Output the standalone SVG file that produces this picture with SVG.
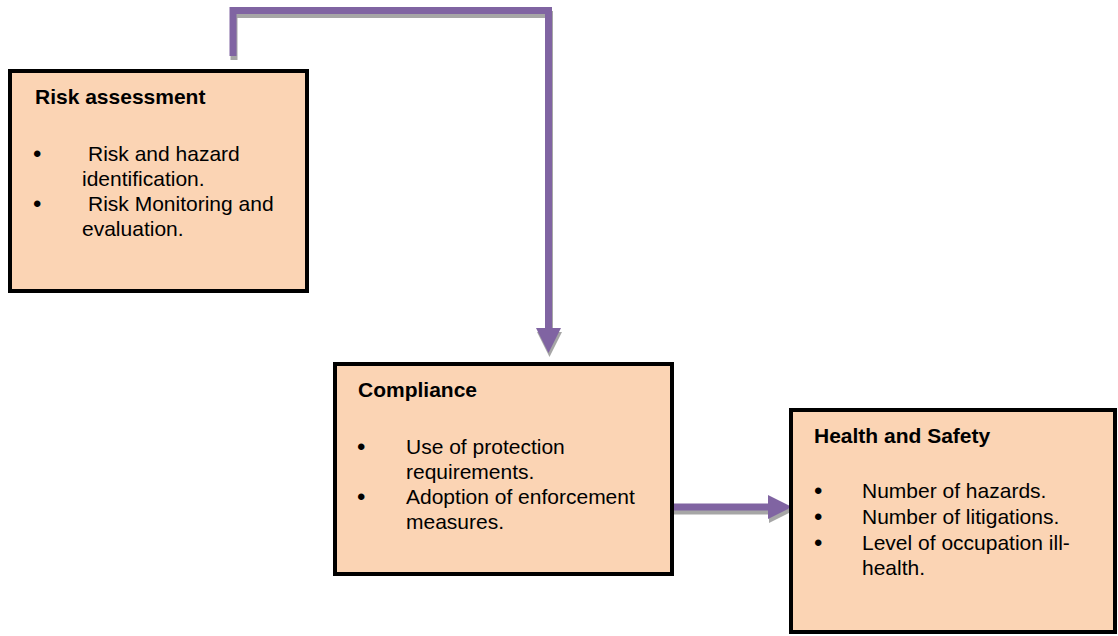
<svg xmlns="http://www.w3.org/2000/svg" width="1118" height="636" viewBox="0 0 1118 636">
  <style>
    .box { fill: #FBD4B4; stroke: #000; stroke-width: 4; }
    .shadow { fill: none; stroke: #A6A6A6; stroke-width: 4; }
    .title { font-family: "Liberation Sans", Arial, sans-serif; font-weight: bold; font-size: 21px; fill: #000; }
    .body { font-family: "Liberation Sans", Arial, sans-serif; font-size: 21px; fill: #000; }
    .bullet { font-family: "Liberation Sans", Arial, sans-serif; font-size: 24px; fill: #000; }
    .conn { fill: none; stroke: #8064A2; stroke-width: 7; stroke-linejoin: miter; }
    .connShadow { fill: none; stroke: #A6A6A6; stroke-width: 7; stroke-linejoin: miter; }
    .head { fill: #8064A2; }
    .headShadow { fill: #A6A6A6; }
  </style>
  <rect width="1118" height="636" fill="#fff"/>

  <g id="connectors">
    <g transform="translate(1,4)">
      <path class="connShadow" d="M233,56 V10.5 H548.5 V330"/>
      <polygon class="headShadow" points="536,328 561,328 548.5,353"/>
      <path class="connShadow" d="M672,507 H770"/>
      <polygon class="headShadow" points="768,495 768,519 792,507"/>
    </g>
    <path class="conn" d="M233,56 V10.5 H548.5 V330"/>
    <polygon class="head" points="536,328 561,328 548.5,353"/>
    <path class="conn" d="M672,507 H770"/>
    <polygon class="head" points="768,495 768,519 792,507"/>
  </g>

  <g id="risk-assessment">
    <rect class="box" x="10" y="71" width="297" height="220"/>
    <text class="title" x="35" y="104">Risk assessment</text>
    <text class="bullet" x="33" y="162">•</text>
    <text class="body" x="88" y="161">Risk and hazard</text>
    <text class="body" x="82" y="186">identification.</text>
    <text class="bullet" x="33" y="212">•</text>
    <text class="body" x="88" y="211">Risk Monitoring and</text>
    <text class="body" x="82" y="236">evaluation.</text>
  </g>

  <g id="compliance">
    <rect class="box" x="335" y="364" width="337" height="210"/>
    <text class="title" x="358" y="397">Compliance</text>
    <text class="bullet" x="357" y="455">•</text>
    <text class="body" x="406" y="454">Use of protection</text>
    <text class="body" x="406" y="479">requirements.</text>
    <text class="bullet" x="357" y="505">•</text>
    <text class="body" x="406" y="504">Adoption of enforcement</text>
    <text class="body" x="406" y="529">measures.</text>
  </g>

  <g id="health-and-safety">
    <rect class="box" x="791" y="410" width="324" height="222"/>
    <text class="title" x="814" y="443">Health and Safety</text>
    <text class="bullet" x="814" y="499">•</text>
    <text class="body" x="862" y="498">Number of hazards.</text>
    <text class="bullet" x="814" y="525">•</text>
    <text class="body" x="862" y="524">Number of litigations.</text>
    <text class="bullet" x="814" y="551">•</text>
    <text class="body" x="862" y="550">Level of occupation ill-</text>
    <text class="body" x="862" y="575">health.</text>
  </g>
</svg>
